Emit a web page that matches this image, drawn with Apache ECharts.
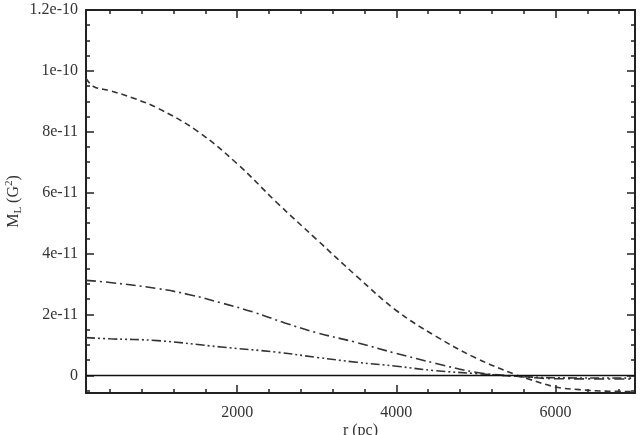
<!DOCTYPE html>
<html>
<head>
<meta charset="utf-8">
<script src="https://cdn.jsdelivr.net/npm/echarts@6/dist/echarts.min.js"></script>
<style>
    html,body{margin:0;padding:0;background:#fff;}
    #main{width:641px;height:435px;}
</style>
</head>
<body>
<div id="main"></div>
<script>
// curve data (r in pc, M_L in G^2)
var rDash    = [100, 200, 400, 700, 1000, 1500, 2000, 2500, 3000, 3500, 4000, 4500, 5000, 5500, 5650, 6000, 6300, 6650, 7000];
var mDash    = [9.75e-11, 9.48e-11, 9.35e-11, 9.1e-11, 8.78e-11, 8.02e-11, 6.95e-11, 5.67e-11, 4.46e-11, 3.26e-11, 2.13e-11, 1.28e-11, 5.7e-12, 0.2e-12, -1.1e-12, -3.8e-12, -4.7e-12, -5.2e-12, -5.3e-12];
var rDashDot = [100, 400, 1000, 1400, 1800, 2200, 2600, 3000, 3500, 4000, 4500, 5000, 5500, 6000, 7000];
var mDashDot = [3.12e-11, 3.05e-11, 2.85e-11, 2.65e-11, 2.38e-11, 2.08e-11, 1.72e-11, 1.4e-11, 1.08e-11, 7.2e-12, 3.9e-12, 1.0e-12, -0.3e-12, -1.1e-12, -1.2e-12];
var rDotDot  = [100, 400, 1000, 1800, 2500, 3000, 3500, 4000, 4500, 5000, 5500, 6000, 7000];
var mDotDot  = [1.24e-11, 1.2e-11, 1.14e-11, 9.3e-12, 7.6e-12, 5.9e-12, 4.3e-12, 3.0e-12, 1.5e-12, 0.6e-12, -0.3e-12, -0.8e-12, -0.9e-12];

// axis ticks
var xMajor = [2000, 4000, 6000];
var xMinor = [400, 800, 1200, 1600, 2400, 2800, 3200, 3600, 4400, 4800, 5200, 5600, 6400, 6800];
var yMajor = [0, 2e-11, 4e-11, 6e-11, 8e-11, 1e-10, 1.2e-10];
var yMajorLabels = ['0', '2e-11', '4e-11', '6e-11', '8e-11', '1e-10', '1.2e-10'];
var yMinor = [-5e-12, 5e-12, 1e-11, 1.5e-11, 2.5e-11, 3e-11, 3.5e-11, 4.5e-11, 5e-11, 5.5e-11,
              6.5e-11, 7e-11, 7.5e-11, 8.5e-11, 9e-11, 9.5e-11, 1.05e-10, 1.1e-10, 1.15e-10];

var X_MIN = 100, X_MAX = 7000, Y_MIN = -5.8e-12, Y_MAX = 1.2e-10;
var FONT = '"Liberation Serif", "DejaVu Serif", serif';
var INK = '#222';

function pairs(xs, ys) {
    return xs.map(function (x, i) { return [x, ys[i]]; });
}

function xAx(pos, ticks, len, major) {
    return {
        type: 'value', position: pos, min: X_MIN, max: X_MAX,
        axisLine: {show: major, onZero: false, lineStyle: {color: INK, width: 2}},
        axisTick: {show: true, inside: true, length: len, customValues: ticks, lineStyle: {color: INK, width: 1.5}},
        axisLabel: {
            show: major && pos === 'bottom', customValues: ticks, color: '#333', fontFamily: FONT, fontSize: 16, margin: 12,
            formatter: function (v) { return String(v); }
        },
        splitLine: {show: false}
    };
}

function yAx(pos, ticks, len, major) {
    return {
        type: 'value', position: pos, min: Y_MIN, max: Y_MAX,
        axisLine: {show: major, onZero: false, lineStyle: {color: INK, width: 2}},
        axisTick: {show: true, inside: true, length: len, customValues: ticks, lineStyle: {color: INK, width: 1.5}},
        axisLabel: {
            show: major && pos === 'left', customValues: ticks, color: '#333', fontFamily: FONT, fontSize: 16, margin: 8,
            formatter: function (v) {
                for (var i = 0; i < yMajor.length; i++) {
                    if (Math.abs(yMajor[i] - v) < 1e-14) return yMajorLabels[i];
                }
                return '';
            }
        },
        splitLine: {show: false}
    };
}

var xAxes = [xAx('bottom', xMajor, 8, true), xAx('bottom', xMinor, 4, false),
             xAx('top', xMajor, 8, true), xAx('top', xMinor, 4, false)];
xAxes[0].name = 'r (pc)';
xAxes[0].nameLocation = 'middle';
xAxes[0].nameGap = 30;
xAxes[0].nameMoveOverlap = false;
xAxes[0].nameTextStyle = {color: '#333', fontFamily: FONT, fontSize: 16};

var yAxes = [yAx('left', yMajor, 8, true), yAx('left', yMinor, 4, false),
             yAx('right', yMajor, 8, true), yAx('right', yMinor, 4, false)];
yAxes[0].name = '{n|M}{s|L}{n| (G}{p|2}{n|)}';
yAxes[0].nameLocation = 'middle';
yAxes[0].nameGap = 62;
yAxes[0].nameMoveOverlap = false;
yAxes[0].nameTextStyle = {
    color: '#333', fontFamily: FONT, fontSize: 16,
    rich: {
        n: {fontFamily: FONT, fontSize: 16, color: '#333'},
        s: {fontFamily: FONT, fontSize: 11, color: '#333', verticalAlign: 'bottom', padding: [9, 0, 0, 0]},
        p: {fontFamily: FONT, fontSize: 11, color: '#333', verticalAlign: 'top', padding: [0, 0, 9, 0]}
    }
};

var chart = echarts.init(document.getElementById('main'));
chart.setOption({
    animation: false,
    backgroundColor: '#fff',
    grid: {left: 86, right: 6, top: 10, bottom: 42, containLabel: false, outerBoundsMode: 'none'},
    xAxis: xAxes,
    yAxis: yAxes,
    series: [
        {
            type: 'line', smooth: 0.4, symbol: 'none', data: pairs(rDash, mDash),
            lineStyle: {color: '#333', width: 1.6, type: [6, 4]},
            markLine: {
                silent: true, symbol: 'none', label: {show: false},
                lineStyle: {color: '#111', type: 'solid', width: 1.3},
                data: [{yAxis: 0}]
            }
        },
        {
            type: 'line', smooth: 0.4, symbol: 'none', data: pairs(rDashDot, mDashDot),
            lineStyle: {color: '#333', width: 1.6, type: [10, 4, 2, 4]}
        },
        {
            type: 'line', smooth: 0.4, symbol: 'none', data: pairs(rDotDot, mDotDot),
            lineStyle: {color: '#333', width: 1.6, type: [9, 3, 2, 3, 2, 3]}
        }
    ]
});
</script>
</body>
</html>
